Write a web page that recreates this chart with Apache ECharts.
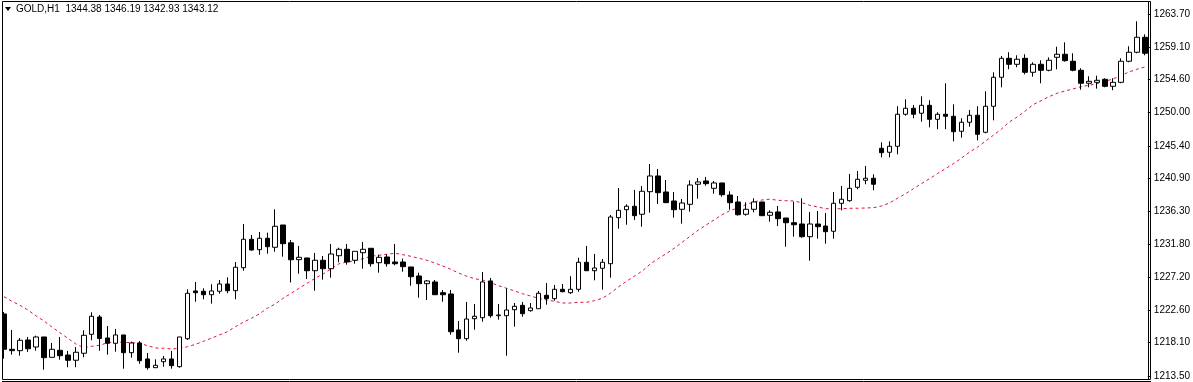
<!DOCTYPE html>
<html>
<head>
<meta charset="utf-8">
<script src="https://cdn.jsdelivr.net/npm/echarts@6/dist/echarts.min.js"></script>
<style>
  html, body { margin: 0; padding: 0; background: #ffffff; }
  #chart { width: 1193px; height: 382px; }
</style>
</head>
<body>
<div id="chart"></div>
<script>
const title = 'GOLD,H1  1344.38 1346.19 1342.93 1343.12';

const open = [
1222.09,1217.19,1217.00,1218.48,1217.51,1218.90,1216.08,1217.05,1216.40,1215.67,
1216.64,1219.27,1221.67,1218.76,1218.02,1219.18,1216.72,1218.07,1215.85,1214.64,
1215.47,1215.85,1214.78,1218.66,1225.28,1225.24,1224.76,1225.24,1226.25,1225.32,
1228.51,1232.45,1231.01,1232.59,1231.34,1234.43,1231.96,1229.62,1229.86,1228.09,
1229.54,1228.37,1230.17,1231.06,1229.54,1230.59,1231.20,1229.20,1229.99,1229.30,
1229.30,1228.61,1227.36,1226.29,1226.53,1225.04,1224.86,1219.87,1218.66,1221.43,
1221.57,1226.67,1221.85,1221.85,1222.68,1223.29,1222.55,1222.82,1224.68,1224.21,
1225.51,1225.04,1225.51,1229.26,1228.09,1228.43,1229.06,1235.45,1236.55,1237.03,
1235.92,1239.05,1241.23,1239.01,1237.76,1236.61,1237.30,1240.08,1240.54,1239.52,
1240.26,1238.59,1237.62,1235.92,1236.61,1237.62,1235.78,1236.24,1235.40,1234.75,
1234.57,1232.81,1234.57,1234.29,1233.56,1237.44,1237.80,1239.66,1240.63,1240.91,
1245.07,1244.52,1245.35,1249.79,1250.62,1249.93,1251.03,1249.09,1249.79,1249.51,
1247.43,1248.68,1249.65,1247.29,1250.90,1254.92,1257.55,1256.72,1257.55,1255.61,
1256.72,1255.89,1257.69,1258.11,1257.14,1255.89,1254.09,1254.22,1254.64,1253.67,
1254.22,1257.14,1258.39,1260.47
];
const close = [
1217.19,1217.00,1218.44,1217.27,1218.90,1216.03,1217.19,1216.30,1215.67,1216.78,
1219.13,1221.77,1218.69,1218.02,1219.18,1216.72,1218.07,1215.61,1214.64,1214.97,
1215.85,1214.92,1218.90,1224.96,1225.04,1224.76,1225.28,1226.25,1225.32,1228.57,
1232.45,1230.96,1232.59,1231.42,1234.25,1231.84,1229.61,1229.95,1228.09,1229.54,
1228.37,1230.41,1231.06,1229.30,1230.78,1231.06,1229.06,1229.95,1229.06,1229.06,
1228.65,1227.26,1226.29,1226.67,1224.76,1224.76,1219.63,1218.66,1221.39,1221.77,
1226.53,1221.85,1221.95,1222.64,1223.16,1222.13,1222.92,1224.96,1224.21,1225.51,
1225.18,1225.51,1229.26,1228.09,1228.47,1229.26,1235.54,1236.47,1237.03,1235.72,
1239.11,1241.23,1238.91,1237.53,1236.55,1237.48,1239.98,1240.40,1240.16,1240.26,
1238.63,1237.53,1235.86,1236.61,1237.62,1235.72,1236.19,1235.31,1234.75,1234.47,
1232.81,1234.57,1234.20,1233.50,1237.44,1238.00,1239.52,1240.77,1240.91,1240.08,
1244.46,1245.35,1249.79,1250.62,1249.79,1251.03,1249.09,1249.79,1249.51,1247.37,
1248.68,1249.65,1247.01,1250.90,1254.92,1257.55,1256.72,1257.42,1255.61,1256.72,
1255.89,1257.28,1258.11,1257.22,1255.89,1254.09,1254.36,1254.50,1253.67,1254.22,
1257.14,1258.39,1260.47,1258.25
];
const high = [
1222.37,1219.87,1218.76,1218.90,1219.08,1218.90,1218.07,1218.90,1216.96,1217.51,
1219.83,1222.32,1221.95,1220.42,1220.01,1219.18,1218.25,1218.34,1216.68,1215.80,
1216.26,1216.96,1218.90,1225.51,1226.53,1225.65,1226.21,1226.80,1227.18,1229.30,
1234.57,1233.05,1233.46,1233.37,1236.61,1234.43,1232.35,1231.52,1229.86,1230.55,
1230.13,1231.80,1231.28,1231.80,1230.78,1232.07,1231.20,1230.31,1230.37,1231.80,
1229.76,1228.61,1227.82,1226.80,1226.80,1225.42,1225.42,1221.12,1223.75,1223.48,
1227.91,1227.08,1223.48,1225.65,1223.61,1223.75,1223.61,1225.28,1226.39,1226.11,
1226.25,1227.32,1229.90,1231.52,1230.41,1229.72,1235.82,1239.56,1237.30,1239.29,
1239.84,1242.89,1242.20,1240.67,1239.01,1238.04,1240.63,1240.95,1241.09,1240.54,
1240.26,1239.11,1238.45,1237.58,1238.14,1237.62,1236.47,1237.07,1235.40,1237.66,
1238.14,1236.24,1236.37,1236.10,1239.01,1239.84,1241.51,1241.92,1242.62,1241.46,
1245.90,1246.04,1250.90,1251.87,1251.08,1252.28,1251.73,1250.06,1254.09,1251.17,
1249.23,1250.38,1250.90,1252.98,1255.61,1257.87,1258.39,1257.97,1258.11,1257.00,
1257.28,1257.69,1259.16,1259.77,1258.25,1256.17,1255.06,1255.14,1254.78,1254.78,
1257.55,1259.22,1262.69,1260.88
];
const low = [
1215.89,1216.44,1216.30,1216.82,1217.00,1214.36,1216.08,1215.75,1214.70,1214.70,
1216.08,1218.44,1217.00,1216.44,1216.86,1214.50,1216.03,1215.19,1214.36,1214.64,
1214.78,1214.50,1214.64,1218.48,1223.79,1224.13,1223.52,1224.90,1224.96,1224.13,
1228.09,1230.87,1230.31,1230.45,1230.73,1230.04,1226.46,1227.68,1226.94,1225.32,
1226.85,1227.12,1229.26,1228.93,1229.06,1228.37,1228.65,1227.82,1228.65,1228.84,
1227.95,1226.01,1224.35,1224.03,1224.76,1223.79,1219.22,1216.72,1218.38,1219.91,
1221.02,1221.57,1221.30,1216.30,1220.33,1221.71,1222.41,1222.82,1223.38,1223.93,
1225.10,1224.86,1225.18,1228.09,1226.76,1225.46,1227.12,1233.92,1234.47,1235.13,
1234.20,1236.14,1237.35,1237.53,1235.45,1234.61,1236.28,1238.08,1239.88,1238.77,
1238.36,1236.55,1235.72,1235.72,1236.19,1235.72,1234.89,1234.29,1231.42,1232.81,
1232.67,1229.48,1232.53,1231.84,1232.53,1236.47,1237.66,1239.38,1240.08,1239.24,
1243.82,1243.82,1244.24,1249.59,1249.23,1248.76,1247.98,1247.71,1247.71,1246.04,
1246.54,1248.07,1246.18,1247.15,1248.95,1253.53,1256.03,1256.31,1255.33,1255.00,
1254.09,1255.75,1256.03,1257.08,1255.75,1253.20,1253.53,1253.34,1253.53,1253.12,
1254.09,1257.00,1258.25,1257.97
];
const ma = [
1224.49,1223.85,1223.29,1222.64,1221.85,1221.12,1220.29,1219.49,1218.72,1217.93,
1217.41,1217.61,1217.75,1218.11,1218.20,1218.16,1218.11,1218.02,1217.69,1217.37,
1217.33,1217.23,1217.33,1217.55,1217.88,1218.30,1218.72,1219.18,1219.63,1220.33,
1220.94,1221.49,1222.09,1222.88,1223.48,1224.27,1224.96,1225.65,1226.35,1227.04,
1227.64,1228.33,1229.06,1229.30,1229.48,1229.76,1230.09,1230.23,1230.37,1230.51,
1230.31,1230.09,1229.81,1229.54,1229.16,1228.75,1228.29,1227.77,1227.32,1226.98,
1226.80,1226.43,1226.01,1225.65,1225.28,1224.90,1224.58,1224.27,1224.03,1223.85,
1223.61,1223.61,1223.71,1223.71,1223.93,1224.27,1224.96,1225.83,1226.62,1227.32,
1228.05,1229.02,1229.76,1230.45,1231.20,1232.03,1232.86,1233.70,1234.43,1235.13,
1235.86,1236.42,1236.79,1237.25,1237.62,1237.90,1238.01,1237.86,1237.80,1237.76,
1237.53,1237.16,1236.93,1236.69,1236.69,1236.69,1236.75,1236.75,1236.79,1236.83,
1237.07,1237.48,1238.14,1238.77,1239.47,1240.16,1240.85,1241.55,1242.24,1242.93,
1243.70,1244.52,1245.21,1246.04,1246.87,1247.71,1248.72,1249.41,1250.24,1251.12,
1251.67,1252.23,1252.71,1253.02,1253.30,1253.61,1253.81,1254.03,1254.36,1254.68,
1255.14,1255.65,1256.03,1256.35
];
const priceTicks = [1213.5,1218.1,1222.6,1227.2,1231.8,1236.3,1240.9,1245.4,1250.0,1254.6,1259.1,1263.7];
const categories = open.map((_, i) => 'H' + (i + 1));

const candles = open.map((o, i) => [o, close[i], low[i], high[i]]);

const chart = echarts.init(document.getElementById('chart'), null, { renderer: 'canvas' });
const FONT = 'Liberation Sans, Arial, sans-serif';

chart.setOption({
  animation: false,
  backgroundColor: '#ffffff',
  grid: { left: -1, right: 42, top: 2, bottom: 3, containLabel: false },
  xAxis: {
    type: 'category',
    data: categories,
    boundaryGap: true,
    axisLine: { show: false },
    axisTick: { show: false },
    axisLabel: { show: false },
    splitLine: { show: false }
  },
  yAxis: {
    type: 'value',
    position: 'right',
    offset: -1,
    min: 1213.07,
    max: 1265.36,
    axisLine: { show: true, lineStyle: { color: '#000000', width: 1 } },
    axisTick: { show: true, length: 3, customValues: priceTicks, lineStyle: { color: '#000000' } },
    axisLabel: {
      show: true,
      customValues: priceTicks,
      formatter: v => v.toFixed(2),
      color: '#000000',
      fontSize: 10,
      fontFamily: FONT,
      margin: 6
    },
    splitLine: { show: false }
  },
  series: [
    {
      type: 'candlestick',
      data: candles,
      barWidth: 5,
      itemStyle: {
        color: '#ffffff',
        color0: '#000000',
        borderColor: '#000000',
        borderColor0: '#000000',
        borderColorDoji: '#000000',
        borderWidth: 1
      },
      emphasis: { disabled: true },
      z: 2
    },
    {
      type: 'line',
      data: ma,
      showSymbol: false,
      symbol: 'none',
      lineStyle: { color: '#dc143c', width: 1, type: [3, 3] },
      emphasis: { disabled: true },
      z: 1
    }
  ],
  graphic: [
    { type: 'rect', z: 100, shape: { x: 0, y: 0, width: 2, height: 382 }, style: { fill: '#ffffff' } },
    { type: 'rect', z: 101, shape: { x: 2.5, y: 1.5, width: 1148, height: 378 }, style: { fill: 'none', stroke: '#000000', lineWidth: 1 } },
    { type: 'line', z: 101, shape: { x1: 2, y1: 381.5, x2: 1151, y2: 381.5 }, style: { stroke: '#000000', lineWidth: 1 } },
    { type: 'polygon', z: 101, shape: { points: [[5, 7], [11, 7], [8, 11]] }, style: { fill: '#000000' } },
    { type: 'text', z: 101, left: 16, top: 4, style: { text: title, fill: '#000000', font: '10px ' + FONT } }
  ],
  tooltip: { show: false }
});
</script>
</body>
</html>
